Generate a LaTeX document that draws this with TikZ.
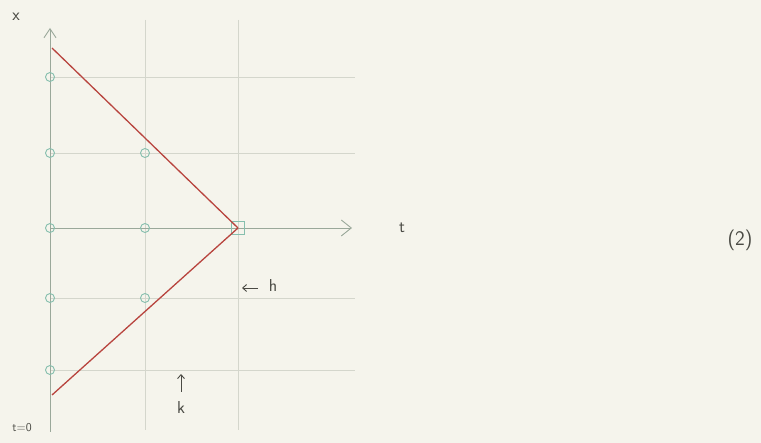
\documentclass[tikz,border=0pt]{standalone}
\usetikzlibrary{arrows.meta}
\definecolor{paper}{HTML}{F5F4EC}
\definecolor{gridc}{HTML}{D4D6CC}
\definecolor{dotc}{HTML}{86BFAE}
\definecolor{redl}{HTML}{B8443E}
\definecolor{axisc}{HTML}{9AA89A}
\definecolor{ink}{HTML}{4A4A44}
\tikzset{
  gridline/.style={gridc, line width=0.8pt},
  meshpt/.style={circle, draw=dotc, line width=0.9pt, minimum size=9pt, inner sep=0pt},
  apexpt/.style={rectangle, draw=dotc, line width=1pt, minimum size=13pt, inner sep=0pt},
  charline/.style={redl, line width=1.3pt},
  axisline/.style={axisc, line width=0.9pt},
  lbl/.style={ink, font=\LARGE\sffamily, inner sep=1pt},
}
\begin{document}
\begin{tikzpicture}[x=1pt,y=-1pt]
\fill[paper] (0,0) rectangle (761,443);
\useasboundingbox (0,0) rectangle (761,443);
% grid
\foreach \yy in {77,153,298,370} \draw[gridline] (50,\yy) -- (355,\yy);
\foreach \xx in {145,238} \draw[gridline] (\xx,20) -- (\xx,430);
% axes
\coordinate (vbot) at (50,432);
\coordinate (vtop) at (50,28);
\coordinate (hleft) at (50,228);
\coordinate (hright) at (352,228);
\draw[axisline, -{Straight Barb[length=9pt,width=12pt]}] (vbot) -- (vtop);
\draw[axisline, -{Straight Barb[length=10pt,width=16pt]}] (hleft) -- (hright);
% mesh points
\node[meshpt] (p1) at (50,77) {};
\node[meshpt] (p2) at (50,153) {};
\node[meshpt] (p3) at (145,153) {};
\node[meshpt] (p4) at (50,228) {};
\node[meshpt] (p5) at (145,228) {};
\node[meshpt] (p6) at (50,298) {};
\node[meshpt] (p7) at (145,298) {};
\node[meshpt] (p8) at (50,370) {};
\node[apexpt] (apex) at (238,228) {};
% characteristics
\coordinate (ctop) at (52,48);
\coordinate (cbot) at (52,395);
\draw[charline] (ctop) -- (apex.center);
\draw[charline] (cbot) -- (apex.center);
% labels
\node[lbl] (xl) at (16,17) {x};
\node[lbl] (tl) at (402,228) {t};
\node[lbl, font=\huge\sffamily] (eq) at (740,240) {(2)};
\node[lbl] (hl) at (273,286) {h};
\node[lbl] (kl) at (181,408) {k};
\node[lbl, font=\large\sffamily] (t0) at (22,428) {t=0};
\coordinate (ha1) at (258,288);
\coordinate (ha2) at (242,288);
\draw[ink, line width=0.9pt, -{Straight Barb[length=4pt,width=7pt]}] (ha1) -- (ha2);
\coordinate (ka1) at (181,392);
\coordinate (ka2) at (181,374);
\draw[ink, line width=0.9pt, -{Straight Barb[length=4pt,width=7pt]}] (ka1) -- (ka2);
\end{tikzpicture}
\end{document}
